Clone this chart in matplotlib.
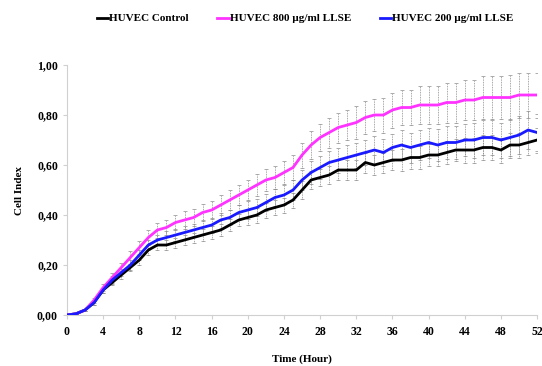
import numpy as np
import matplotlib
matplotlib.use("Agg")
import matplotlib.pyplot as plt

plt.rcParams['font.family'] = ['Liberation Serif', 'DejaVu Serif']
plt.rcParams['font.weight'] = 'bold'

# tiempo en horas
hours = list(range(0, 53))

control = [0.00, 0.005, 0.02, 0.05, 0.10, 0.13, 0.16, 0.19, 0.22, 0.26,
           0.28, 0.28, 0.29, 0.30, 0.31, 0.32, 0.33, 0.34, 0.36, 0.38,
           0.39, 0.40, 0.42, 0.43, 0.44, 0.46, 0.50, 0.54, 0.55, 0.56,
           0.58, 0.58, 0.58, 0.61, 0.60, 0.61, 0.62, 0.62, 0.63, 0.63,
           0.64, 0.64, 0.65, 0.66, 0.66, 0.66, 0.67, 0.67, 0.66, 0.68,
           0.68, 0.69, 0.70]
llse800 = [0.00, 0.005, 0.02, 0.06, 0.11, 0.15, 0.19, 0.23, 0.27, 0.31,
           0.34, 0.35, 0.37, 0.38, 0.39, 0.41, 0.42, 0.44, 0.46, 0.48,
           0.50, 0.52, 0.54, 0.55, 0.57, 0.59, 0.64, 0.68, 0.71, 0.73,
           0.75, 0.76, 0.77, 0.79, 0.80, 0.80, 0.82, 0.83, 0.83, 0.84,
           0.84, 0.84, 0.85, 0.85, 0.86, 0.86, 0.87, 0.87, 0.87, 0.87,
           0.88, 0.88, 0.88]
llse200 = [0.00, 0.005, 0.02, 0.05, 0.10, 0.14, 0.17, 0.20, 0.24, 0.28,
           0.30, 0.31, 0.32, 0.33, 0.34, 0.35, 0.36, 0.38, 0.39, 0.41,
           0.42, 0.43, 0.45, 0.47, 0.48, 0.50, 0.54, 0.57, 0.59, 0.61,
           0.62, 0.63, 0.64, 0.65, 0.66, 0.65, 0.67, 0.68, 0.67, 0.68,
           0.69, 0.68, 0.69, 0.69, 0.70, 0.70, 0.71, 0.71, 0.70, 0.71,
           0.72, 0.74, 0.73]

# desviaciones (barras de error)
err_control = [0.00, 0.00, 0.005, 0.01, 0.01, 0.01, 0.015, 0.015, 0.02, 0.02,
               0.02, 0.02, 0.02, 0.02, 0.02, 0.025, 0.025, 0.025, 0.025, 0.025,
               0.03, 0.03, 0.03, 0.03, 0.03, 0.03, 0.035, 0.035, 0.035, 0.035,
               0.04, 0.04, 0.04, 0.04, 0.04, 0.04, 0.04, 0.045, 0.045, 0.045,
               0.045, 0.045, 0.045, 0.045, 0.05, 0.05, 0.05, 0.05, 0.05, 0.05,
               0.05, 0.05, 0.05]
err_800 = [0.00, 0.00, 0.005, 0.01, 0.015, 0.02, 0.02, 0.025, 0.025, 0.03,
           0.03, 0.03, 0.03, 0.035, 0.035, 0.035, 0.035, 0.04, 0.04, 0.04,
           0.04, 0.045, 0.045, 0.045, 0.045, 0.05, 0.05, 0.055, 0.055, 0.06,
           0.06, 0.06, 0.065, 0.065, 0.065, 0.07, 0.07, 0.07, 0.07, 0.075,
           0.075, 0.075, 0.08, 0.08, 0.08, 0.08, 0.085, 0.085, 0.085, 0.09,
           0.09, 0.09, 0.09]
err_200 = [0.00, 0.00, 0.005, 0.01, 0.01, 0.015, 0.015, 0.02, 0.02, 0.02,
           0.02, 0.025, 0.025, 0.025, 0.025, 0.03, 0.03, 0.03, 0.03, 0.03,
           0.035, 0.035, 0.035, 0.035, 0.04, 0.04, 0.04, 0.045, 0.045, 0.045,
           0.05, 0.05, 0.05, 0.05, 0.055, 0.055, 0.055, 0.06, 0.06, 0.06,
           0.06, 0.065, 0.065, 0.065, 0.065, 0.07, 0.07, 0.07, 0.07, 0.075,
           0.075, 0.075, 0.075]

fig = plt.figure(figsize=(5.42, 3.66), dpi=100)
ax = fig.add_axes([0.1236, 0.1393, 0.8674, 0.6831])

series = [
    (control, err_control, "black", "HUVEC Control"),
    (llse800, err_800, "#ff33ff", "HUVEC 800 µg/ml LLSE"),
    (llse200, err_200, "#1a1aff", "HUVEC 200 µg/ml LLSE"),
]

for vals, errs, col, lab in series:
    eb = ax.errorbar(hours, vals, yerr=errs, fmt='none', ecolor='#8a8a8a',
                     elinewidth=0.6, capsize=1.2, capthick=0.5, zorder=1)
    for lc in eb[2]:
        lc.set_linestyle((0, (1, 1)))

for vals, errs, col, lab in series:
    ax.plot(hours, vals, color=col, lw=2.0, label=lab, zorder=3)

ax.set_xlim(0, 52)
ax.set_ylim(0, 1.0)
ax.set_xticks(range(0, 53, 4))
ax.set_yticks([0, 0.2, 0.4, 0.6, 0.8, 1.0])
ax.set_yticklabels(["0,00", "0,20", "0,40", "0,60", "0,80", "1,00"])

for s in ["top", "right"]:
    ax.spines[s].set_visible(False)
for s in ["left", "bottom"]:
    ax.spines[s].set_color("#d0d0d0")
    ax.spines[s].set_linewidth(0.8)
ax.tick_params(axis="both", colors="#d0d0d0", labelcolor="black",
               labelsize=8.5, length=3, width=0.8)
ax.tick_params(axis="x", pad=5)
for t in ax.get_xticklabels() + ax.get_yticklabels():
    t.set_fontweight("bold")

ax.set_xlabel("Time (Hour)", fontsize=8, fontweight="bold", labelpad=12)
ax.set_ylabel("Cell Index", fontsize=8, fontweight="bold", labelpad=9)

fig.legend(loc="upper center", bbox_to_anchor=(0.563, 0.99), ncol=3,
           frameon=False, handlelength=1.0, handletextpad=0.1,
           columnspacing=2.6, prop={"weight": "bold", "size": 8})

fig.savefig("out.png", dpi=100)
